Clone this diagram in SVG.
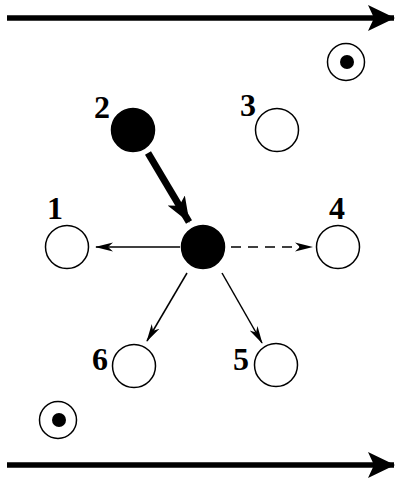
<svg xmlns="http://www.w3.org/2000/svg" width="396" height="481" viewBox="0 0 396 481">
<style>
.open{fill:#fff;stroke:#000;stroke-width:1.5}
.full{fill:#000;stroke:#000;stroke-width:1.5}
.lbl{font-family:"Liberation Serif","Times New Roman",serif;font-weight:bold;font-size:32px;fill:#000}
.thin{stroke:#000;stroke-width:1.5;fill:none}
.big{stroke:#000;stroke-width:5.5;fill:none}
</style>
<defs>
<marker id="ah" markerUnits="userSpaceOnUse" viewBox="0 0 18 12" refX="17" refY="6" markerWidth="18" markerHeight="12" orient="auto">
<path d="M0,1.5 L18,6 L0,10.5 L5,6 z" fill="#000"/>
</marker>
<marker id="ahBig" markerUnits="userSpaceOnUse" viewBox="0 0 27 28" refX="26" refY="14" markerWidth="27" markerHeight="28" orient="auto">
<path d="M0,1 L27,14 L0,27 L6,14 z" fill="#000"/>
</marker>
<marker id="ahMid" markerUnits="userSpaceOnUse" viewBox="0 0 26 22" refX="25" refY="11" markerWidth="26" markerHeight="22" orient="auto">
<path d="M0,1 L26,11 L0,21 L6,11 z" fill="#000"/>
</marker>
</defs>
<g id="connectors">
<line class="big" x1="7" y1="18" x2="394" y2="18" marker-end="url(#ahBig)"/>
<line class="big" x1="7" y1="465" x2="394" y2="465" marker-end="url(#ahBig)"/>
<line stroke="#000" stroke-width="7" x1="148" y1="153" x2="189" y2="222" marker-end="url(#ahMid)"/>
<line class="thin" x1="180" y1="247" x2="96" y2="247" marker-end="url(#ah)"/>
<line class="thin" x1="231" y1="247" x2="312" y2="247" stroke-dasharray="10,7" marker-end="url(#ah)"/>
<line class="thin" x1="187" y1="273" x2="147" y2="341" marker-end="url(#ah)"/>
<line class="thin" x1="222" y1="273" x2="262" y2="343" marker-end="url(#ah)"/>
</g>
<g id="sym-top"><circle class="open" cx="346" cy="62" r="18.5"/><circle cx="347" cy="62" r="7" fill="#000"/></g>
<g id="sym-bottom"><circle class="open" cx="58" cy="420" r="18.5"/><circle cx="59" cy="420" r="7" fill="#000"/></g>
<g id="center"><circle class="full" cx="203" cy="247" r="21.5"/></g>
<g id="n1"><circle class="open" cx="67" cy="247" r="21.5"/><text class="lbl" x="47" y="219">1</text></g>
<g id="n2"><circle class="full" cx="133" cy="130" r="21.5"/><text class="lbl" x="94" y="118">2</text></g>
<g id="n3"><circle class="open" cx="277" cy="130" r="21.5"/><text class="lbl" x="240" y="116">3</text></g>
<g id="n4"><circle class="open" cx="338" cy="247" r="21.5"/><text class="lbl" x="329" y="219">4</text></g>
<g id="n5"><circle class="open" cx="276" cy="365" r="21.5"/><text class="lbl" x="233" y="370">5</text></g>
<g id="n6"><circle class="open" cx="134" cy="366" r="21.5"/><text class="lbl" x="92" y="370">6</text></g>
</svg>
